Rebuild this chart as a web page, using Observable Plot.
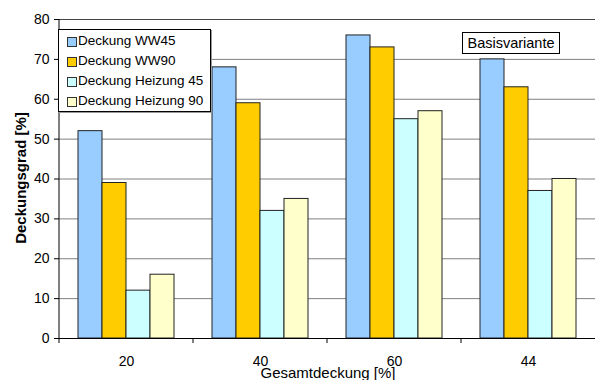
<!DOCTYPE html>
<html>
<head>
<meta charset="utf-8">
<script src="https://cdn.jsdelivr.net/npm/d3@7"></script>
<script src="https://cdn.jsdelivr.net/npm/@observablehq/plot@0.6"></script>
<style>
  body { margin: 0; overflow: hidden; background: #fff; }
  #wrap { position: relative; width: 595px; height: 380px; font-family: "Liberation Sans", Arial, sans-serif; color: #000; }
  #legend { position: absolute; left: 58px; top: 29px; width: 151px; height: 81px; border: 1px solid #000; background: #fff; box-shadow: 1px 1px 0 #999; }
  .row { position: absolute; left: 0; height: 20px; line-height: 20px; font-size: 13.5px; white-space: nowrap; }
  .sw { position: absolute; left: 8px; top: 6px; width: 8px; height: 8px; border: 1px solid #333; }
  .lt { position: absolute; left: 19px; top: 0; }
  #basis { position: absolute; left: 462px; top: 32px; width: 96px; height: 20px; border: 1px solid #000; background: #fff; font-size: 14.5px; line-height: 20px; text-align: center; white-space: nowrap; }
  #ytitle { position: absolute; left: 20px; top: 178px; transform: translate(-50%, -50%) rotate(-90deg); font-weight: bold; font-size: 15px; line-height: 1; white-space: nowrap; }
  #xtitle { position: absolute; left: 328px; top: 372px; transform: translate(-50%, -50%); font-size: 15px; line-height: 1; white-space: nowrap; }
</style>
</head>
<body>
<div id="wrap">
  <div id="chart"></div>
  <div id="legend"></div>
  <div id="basis">Basisvariante</div>
  <div id="ytitle">Deckungsgrad [%]</div>
  <div id="xtitle">Gesamtdeckung [%]</div>
</div>
<script>
const groups = ["20", "40", "60", "44"];
const series = ["Deckung WW45", "Deckung WW90", "Deckung Heizung 45", "Deckung Heizung 90"];
const ww45 = [52, 68, 76, 70];
const ww90 = [39, 59, 73, 63];
const hz45 = [12, 32, 55, 37];
const hz90 = [16, 35, 57, 40];
const colors = ["#99CCFF", "#FFCC00", "#CCFFFF", "#FFFFCC"];
const yTicks = [0, 10, 20, 30, 40, 50, 60, 70, 80];

const valuesBySeries = [ww45, ww90, hz45, hz90];
const data = groups.flatMap((g, i) => series.map((s, j) => ({group: g, series: s, value: valuesBySeries[j][i]})));

const chart = Plot.plot({
  width: 595,
  height: 380,
  marginTop: 19,
  marginBottom: 42,
  marginLeft: 59,
  marginRight: 0,
  style: {fontFamily: "'Liberation Sans', Arial, sans-serif", fontSize: "14px", color: "#000", background: "transparent"},
  fx: {domain: groups, padding: 0, label: null},
  x: {domain: series, paddingInner: 0, paddingOuter: 0.75, axis: null},
  y: {domain: [0, 80], label: null},
  color: {domain: series, range: colors},
  marks: [
    Plot.gridY(yTicks.slice(1, -1), {stroke: "#808080", strokeOpacity: 1}),
    Plot.ruleY([80], {stroke: "#444"}),
    Plot.barY(data, {fx: "group", x: "series", y: "value", fill: "series", stroke: "#222", strokeWidth: 1}),
    Plot.axisY({ticks: yTicks, tickSize: 5, tickPadding: 5, label: null, fontSize: 14}),
    Plot.axisFx({anchor: "bottom", tickSize: 0, tickPadding: 18, label: null, fontSize: 14}),
    Plot.ruleY([0], {stroke: "#000"})
  ]
});
document.getElementById("chart").appendChild(chart);

// y-axis line and group boundary ticks from the library's scales
const svg = d3.select(chart);
const fx = chart.scale("fx");
const y = chart.scale("y");
const yb = y.apply(0), yt = y.apply(80);
const x0 = fx.range[0];
svg.append("line").attr("x1", x0).attr("x2", x0).attr("y1", yt).attr("y2", yb).attr("stroke", "#000");
groups.forEach(g => {
  const xx = fx.apply(g);
  svg.append("line").attr("x1", xx).attr("x2", xx).attr("y1", yb).attr("y2", yb + 5).attr("stroke", "#000");
});

// legend
const legend = document.getElementById("legend");
series.forEach((s, i) => {
  const row = document.createElement("div");
  row.className = "row";
  row.style.top = (1 + 20 * i) + "px";
  const sw = document.createElement("div");
  sw.className = "sw";
  sw.style.background = colors[i];
  const lt = document.createElement("div");
  lt.className = "lt";
  lt.textContent = s;
  row.appendChild(sw);
  row.appendChild(lt);
  legend.appendChild(row);
});
</script>
</body>
</html>
